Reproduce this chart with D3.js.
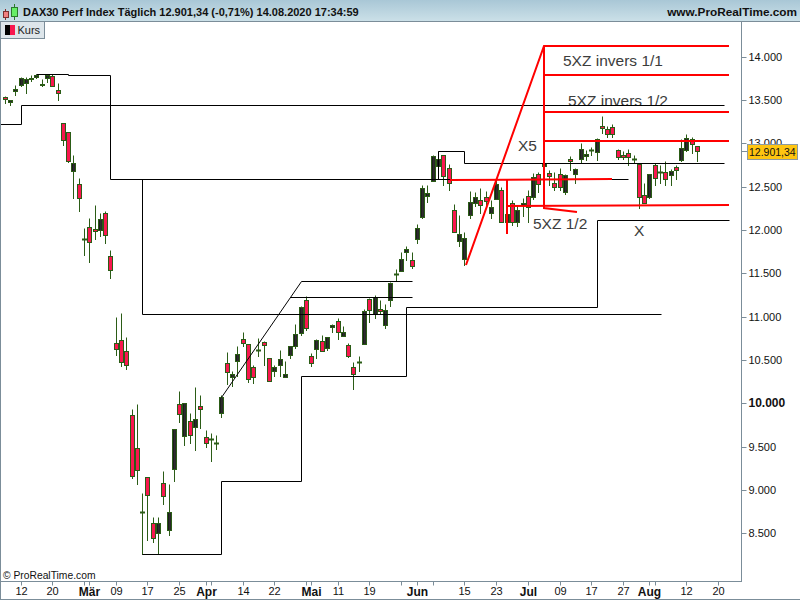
<!DOCTYPE html>
<html>
<head>
<meta charset="utf-8">
<script src="https://cdn.jsdelivr.net/npm/d3@7/dist/d3.min.js"></script>
<style>
  html, body { margin: 0; padding: 0; background: white; }
  svg { display: block; font-family: "Liberation Sans", Arial, sans-serif; }
</style>
</head>
<body>
<div id="chart"></div>
<script>
const barOpen = [
  13529,13471,13598,13667,13690,13731,13765,13667,13748,13771,
  13610,13229,13125,12675,12525,11896,12031,12008,11996,12193,
  11697,10693,10727,10600,9862,9481,8738,9147,8616,8500,
  9077,8530,9234,9989,9620,9793,9724,9966,9608,9577,
  9531,9885,10462,10300,10485,10739,10681,10416,10615,10704,
  10520,10369,10434,10296,10550,10654,10808,11189,10543,10619,
  10716,10630,10873,10947,10773,10670,10416,10469,10681,11200,
  11027,11085,10900,11189,11492,11519,11738,11650,11893,12142,
  12389,12565,12727,12862,12712,12227,11865,11660,12165,12308,
  12338,12377,12193,12350,12458,12089,12308,12089,12285,12389,
  12377,12643,12730,12654,12539,12638,12435,12816,12638,12816,
  12850,12912,12897,13196,13162,13185,12920,12862,12885,12816,
  12758,12396,12377,12746,12666,12666,12631,12723,12804,12920,
  13047,12966
];
const barHigh = [
  13546,13500,13673,13765,13754,13788,13800,13731,13800,13800,
  13690,13229,13125,12854,12600,12012,12127,12277,12196,12208,
  11769,10993,11031,10762,9931,9992,8965,9147,8677,8677,
  9208,9069,9700,10142,10000,9888,10188,10093,9692,9654,
  9631,10085,10592,10362,10650,10823,10681,10442,10750,10708,
  10520,10431,10615,10488,10658,10904,11123,11238,10577,10742,
  10777,10762,10915,10981,10892,10693,10474,10546,11085,11204,
  11250,11192,11146,11389,11550,11746,11815,11735,12058,12508,
  12508,12865,12903,12862,12761,12297,12173,11969,12442,12427,
  12481,12450,12346,12585,12496,12231,12346,12288,12366,12461,
  12654,12669,12796,12692,12661,12712,12646,12846,12704,13000,
  12923,12954,13058,13315,13200,13223,12931,12900,12931,12862,
  12769,12531,12646,12769,12750,12793,12700,12746,13047,13104,
  13070,12966
];
const barLow = [
  13460,13436,13552,13656,13575,13719,13748,13656,13702,13656,
  13494,12975,12779,12358,12211,11711,11623,11896,11923,11842,
  11443,10550,10423,10388,9130,9061,8258,8415,8392,8258,
  8830,8473,9096,9777,9519,9531,9454,9704,9485,9327,
  9462,9834,10212,10192,10315,10654,10238,10227,10538,10431,
  10254,10315,10315,10296,10512,10635,10781,10835,10423,10512,
  10596,10607,10815,10731,10773,10527,10154,10373,10681,10930,
  10977,11031,10861,11115,11423,11519,11646,11561,11842,12135,
  12315,12565,12727,12508,12461,11969,11815,11593,12135,12269,
  12185,12269,12135,12350,12089,12089,12050,12046,12161,12089,
  12354,12427,12715,12519,12461,12453,12404,12684,12539,12769,
  12800,12862,12800,13116,13070,13070,12808,12816,12742,12781,
  12250,12303,12366,12511,12539,12511,12511,12585,12793,12908,
  12885,12793
];
const barClose = [
  13506,13494,13621,13748,13736,13748,13788,13679,13783,13656,
  13575,13033,12790,12767,12363,11896,11858,11985,12123,11939,
  11535,10623,10474,10439,9153,9223,8738,8934,8443,8616,
  8927,8743,9700,9874,10000,9631,9816,9931,9539,9577,
  9531,10070,10358,10335,10566,10693,10277,10300,10615,10665,
  10254,10416,10508,10335,10658,10797,11108,10861,10457,10727,
  10596,10762,10900,10820,10820,10538,10330,10469,11062,11069,
  11223,11062,11073,11385,11492,11662,11777,11576,12020,12481,
  12423,12850,12816,12623,12531,11969,11950,11904,12320,12377,
  12285,12327,12262,12527,12089,12181,12089,12227,12308,12262,
  12608,12527,12769,12617,12493,12493,12631,12793,12700,12931,
  12873,12912,13047,13173,13104,13104,12834,12839,12839,12816,
  12373,12303,12643,12596,12666,12585,12677,12689,12943,13058,
  12989,12901
];

const priceTicks = [14000,13500,13000,12500,12000,11500,11000,10500,10000,9500,9000,8500];
const lastPrice = 12901.34;

// bar number of every tick on the time axis, "" = tick without label
const timeTickBars = [3,9,15,16,21,27,33,38,39,45,51,57,58,63,69,75,78,81,87,93,99,105,111,117,122,123,129,135];
const timeTickLabels = ["12","20","","Mär","09","17","25","Apr","","14","22","","Mai","11","19","","Jun","","15","23","Jul","09","17","27","Aug","","12","20"];
const monthLabels = ["Mär","Apr","Mai","Jun","Jul","Aug"];

// trend lines as [bar, price]
const blackLines = [
  [[-1,13220],[3,13220],[3,13439],[136.2,13439]],
  [[6,13800],[12,13800],[12,13785],[20,13785],[20,12585],[118,12585]],
  [[26,12585],[26,11027],[124.1,11027]],
  [[26,8258],[41,8258],[41,9100],[56,9100],[56,10312],[76,10312],[76,11108],[112,11108],[112,12115],[137,12115]],
  [[41,10073],[56,11408],[77,11408]],
  [[54,11223],[77,11223]],
  [[82,12585],[82,12903],[87,12903],[87,12769],[136.2,12769]],
  [[102,12285],[118,12285]]
];
const redLines = [
  [[87.2,11596],[102,14123],[137,14123]],
  [[102,14123],[102,12254],[108.2,12211]],
  [[102,13788],[137,13788]],
  [[102,13361],[137,13361]],
  [[102,13027],[137,13027]],
  [[95,12277],[137,12288]],
  [[84.2,12577],[115,12594]],
  [[95,12585],[95,11950]]
];

const noteTexts = ["5XZ invers 1/1","5XZ invers 1/2","X5","5XZ 1/2","X"];
const noteBars = [105.6,106.6,97.2,100,119.1];
const notePrices = [13892,13431,12912,12011,11931];

const width = 800;
const height = 600;
const frameColor = "#7b8d99";
const wickColor = "#2b5c16";

const svg = d3.select("#chart").append("svg")
  .attr("width", width)
  .attr("height", height);

const defs = svg.append("defs");
const headGrad = defs.append("linearGradient").attr("id", "head").attr("x1", 0).attr("x2", 0).attr("y1", 0).attr("y2", 1);
headGrad.append("stop").attr("offset", "0%").attr("stop-color", "#a9c7d6");
headGrad.append("stop").attr("offset", "100%").attr("stop-color", "#cbe0e8");
const darkGrad = defs.append("linearGradient").attr("id", "dark");
darkGrad.append("stop").attr("offset", "0%").attr("stop-color", "#0c0c0c");
darkGrad.append("stop").attr("offset", "60%").attr("stop-color", "#333333");
darkGrad.append("stop").attr("offset", "100%").attr("stop-color", "#161616");

const x = d3.scaleLinear().domain([0, 131]).rangeRound([4.7, 697]);
const y = d3.scaleLinear().domain([7950, 14400]).range([581, 22]);
const yTicks = y.copy().interpolate(d3.interpolateRound);

const px = (b) => x(b) + 0.5;
const row = (v) => Math.floor(y(v)) + 0.5;

// candles
const bars = barOpen.map((o, i) => ({
  i: i, open: o, high: barHigh[i], low: barLow[i], close: barClose[i],
  top: row(Math.max(o, barClose[i])),
  bottom: row(Math.min(o, barClose[i]))
}));

const candles = svg.append("g");
candles.selectAll("line.wick").data(bars).enter().append("line")
  .attr("class", "wick")
  .attr("x1", (d) => px(d.i))
  .attr("x2", (d) => px(d.i))
  .attr("y1", (d) => row(d.high))
  .attr("y2", (d) => row(d.low) + 0.5)
  .attr("stroke", wickColor);

candles.selectAll("line.doji").data(bars.filter((d) => d.open === d.close)).enter().append("line")
  .attr("class", "doji")
  .attr("x1", (d) => px(d.i) - 2.5)
  .attr("x2", (d) => px(d.i) + 2.5)
  .attr("y1", (d) => d.top)
  .attr("y2", (d) => d.top)
  .attr("stroke", wickColor)
  .attr("stroke-width", 2);

candles.selectAll("rect").data(bars.filter((d) => d.open !== d.close)).enter().append("rect")
  .attr("x", (d) => px(d.i) - 2)
  .attr("y", (d) => d.top)
  .attr("width", 4)
  .attr("height", (d) => Math.max(1, d.bottom - d.top))
  .attr("fill", (d) => (d.close > d.open ? "url(#dark)" : "#f8174f"))
  .attr("stroke", wickColor);

// notes sit under the trend lines
svg.append("g").selectAll("text").data(noteTexts).enter().append("text")
  .attr("x", (d, i) => x(noteBars[i]))
  .attr("y", (d, i) => Math.round(y(notePrices[i])))
  .attr("font-size", 15.5)
  .attr("fill", "#3c3c3c")
  .text((d) => d);

const blackPath = d3.line().x((d) => px(d[0])).y((d) => row(d[1]));
svg.append("g").selectAll("path").data(blackLines).enter().append("path")
  .attr("d", blackPath)
  .attr("fill", "none")
  .attr("stroke", "black");

const redPath = d3.line().x((d) => x(d[0])).y((d) => Math.round(y(d[1])));
svg.append("g").selectAll("path").data(redLines).enter().append("path")
  .attr("d", redPath)
  .attr("fill", "none")
  .attr("stroke", "#ff0000")
  .attr("stroke-width", 2);

// axes
const priceFormat = (v) => d3.format(",")(v).replace(",", ".");
const yAxis = svg.append("g")
  .attr("transform", "translate(741.5,0)")
  .call(d3.axisRight(yTicks).tickValues(priceTicks).tickSize(5).tickPadding(2).tickFormat(priceFormat));
yAxis.select(".domain").remove();
yAxis.selectAll("line").attr("stroke", frameColor);
yAxis.selectAll("text")
  .attr("font-family", "'Liberation Sans', Arial, sans-serif")
  .attr("font-size", (d) => (d === 10000 ? 12 : 11))
  .attr("font-weight", (d) => (d === 10000 ? "bold" : "normal"))
  .attr("fill", "#111111");

const xAxis = svg.append("g")
  .attr("transform", "translate(0,581.5)")
  .call(d3.axisBottom(x).tickValues(timeTickBars).tickSize(4).tickPadding(2)
    .tickFormat((b) => timeTickLabels[timeTickBars.indexOf(b)]));
xAxis.select(".domain").remove();
xAxis.selectAll("line").attr("stroke", frameColor);
xAxis.selectAll("text")
  .attr("font-family", "'Liberation Sans', Arial, sans-serif")
  .attr("font-size", function () { return monthLabels.includes(this.textContent) ? 12 : 11; })
  .attr("font-weight", function () { return monthLabels.includes(this.textContent) ? "bold" : "normal"; })
  .attr("fill", "#111111");

// frame
svg.append("rect").attr("x", 0).attr("y", 581).attr("width", 742).attr("height", 1).attr("fill", frameColor);
svg.append("rect").attr("x", 741).attr("y", 22).attr("width", 1).attr("height", 560).attr("fill", frameColor);
svg.append("rect").attr("x", 0).attr("y", 22).attr("width", 1).attr("height", 578).attr("fill", frameColor);
svg.append("rect").attr("x", 0).attr("y", 599).attr("width", 800).attr("height", 1).attr("fill", frameColor);

// last price box
svg.append("line")
  .attr("x1", 742).attr("x2", 747)
  .attr("y1", row(lastPrice)).attr("y2", row(lastPrice))
  .attr("stroke", frameColor);
svg.append("rect")
  .attr("x", 747.5).attr("y", 144.5).attr("width", 50).attr("height", 15)
  .attr("fill", "#ffc510").attr("stroke", "#8d9aa0");
svg.append("text")
  .attr("x", 749).attr("y", 156)
  .attr("font-size", 10.5)
  .attr("fill", "#111111")
  .text("12.901,34");

// header
svg.append("rect").attr("width", width).attr("height", 21).attr("fill", "url(#head)");
svg.append("rect").attr("y", 21).attr("width", width).attr("height", 1).attr("fill", frameColor);
svg.append("line").attr("x1", 5.5).attr("x2", 5.5).attr("y1", 9).attr("y2", 20).attr("stroke", "#8a2a2a");
svg.append("rect").attr("x", 3.5).attr("y", 11.5).attr("width", 5).attr("height", 6).attr("fill", "#f08080").attr("stroke", "#7a3030");
svg.append("line").attr("x1", 14.5).attr("x2", 14.5).attr("y1", 4).attr("y2", 20).attr("stroke", "#2b7a2b");
svg.append("rect").attr("x", 11.5).attr("y", 7.5).attr("width", 6).attr("height", 9).attr("fill", "#66ee66").attr("stroke", "#2b7a2b");
svg.append("text")
  .attr("x", 23).attr("y", 16)
  .attr("font-size", 11).attr("font-weight", "bold").attr("fill", "#111111")
  .text("DAX30 Perf Index Täglich 12.901,34 (-0,71%) 14.08.2020 17:34:59");
svg.append("text")
  .attr("x", 797).attr("y", 16)
  .attr("text-anchor", "end")
  .attr("font-size", 11.8).attr("font-weight", "bold").attr("fill", "#111111")
  .text("www.ProRealTime.com");

// legend
svg.append("rect").attr("x", 0.5).attr("y", 21.5).attr("width", 44).attr("height", 17).attr("fill", "#dde5ea").attr("stroke", frameColor);
svg.append("rect").attr("x", 5).attr("y", 25).attr("width", 5).attr("height", 10).attr("fill", "black");
svg.append("rect").attr("x", 10).attr("y", 25).attr("width", 5).attr("height", 10).attr("fill", "#f8174f");
svg.append("text").attr("x", 17.5).attr("y", 34).attr("font-size", 11).attr("fill", "#222222").text("Kurs");

svg.append("text")
  .attr("x", 3).attr("y", 579)
  .attr("font-size", 10.3).attr("fill", "#111111")
  .text("© ProRealTime.com");
</script>
</body>
</html>
